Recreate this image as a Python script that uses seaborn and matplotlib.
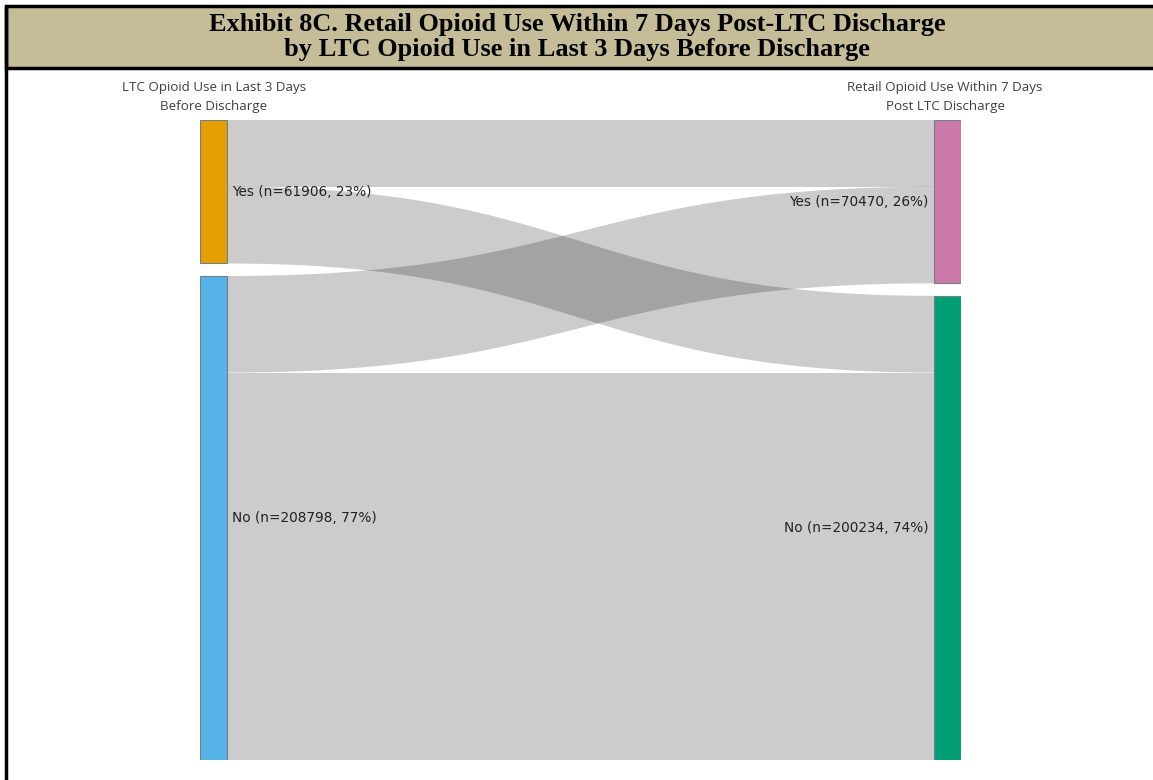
"""Exhibit 8C: Sankey of LTC opioid use (last 3 days) -> retail opioid use within 7 days post discharge."""
import matplotlib

matplotlib.use("Agg")
import matplotlib.pyplot as plt
import numpy as np
import seaborn as sns
from matplotlib.patches import Polygon, Rectangle

# ---- data ----
left_labels = ["Yes", "No"]
left_n = [61906, 208798]
right_labels = ["Yes", "No"]
right_n = [70470, 200234]
# flows: (source index, target index, count); estimated from ribbon widths
flow_src = [0, 0, 1, 1]
flow_tgt = [0, 1, 0, 1]
flow_val = [28800, 33106, 41670, 167128]

left_colors = ["#E69F00", "#56B4E9"]
right_colors = ["#CC79A7", "#009E73"]
left_header = "LTC Opioid Use in Last 3 Days\nBefore Discharge"
right_header = "Retail Opioid Use Within 7 Days\nPost LTC Discharge"
title = ("Exhibit 8C. Retail Opioid Use Within 7 Days Post-LTC Discharge\n"
         "by LTC Opioid Use in Last 3 Days Before Discharge")

sns.set_theme(style="white")
plt.rcParams["font.family"] = ["DejaVu Sans"]

W, H = 1153, 780
fig = plt.figure(figsize=(W / 100, H / 100), dpi=100)

# frame + title banner, in pixel coordinates
bg = fig.add_axes([0, 0, 1, 1])
bg.set_xlim(0, W)
bg.set_ylim(H, 0)
bg.axis("off")
bg.add_patch(Rectangle((6, 6), W + 10, 62, facecolor="#C4BD97",
                       edgecolor="black", linewidth=2.5))
bg.plot([6, 6], [6, H + 5], color="black", linewidth=2.5)
bg.text(577, 37, title, ha="center", va="center", fontsize=19,
        fontweight="bold", family="Liberation Serif", color="black",
        linespacing=1.1)
bg.text(214, 97, left_header, ha="center", va="center", fontsize=9.6,
        family="Open Sans", color="#404040", linespacing=1.55)
bg.text(945, 97, right_header, ha="center", va="center", fontsize=9.6,
        family="Open Sans", color="#404040", linespacing=1.55)

# sankey area: x in [0, 1] spans both node columns, y in counts (top = 0)
x0px, x1px, y0px, y1px = 200, 961, 120, 760
ax = fig.add_axes([x0px / W, 1 - y1px / H, (x1px - x0px) / W, (y1px - y0px) / H])
ax.axis("off")
total = sum(left_n)
gap = total * 12.5 / 627
node_w = 27 / (x1px - x0px)
ax.set_xlim(0, 1)
ax.set_ylim(total + gap, 0)


def node_tops(vals):
    tops, y = [], 0
    for v in vals:
        tops.append(y)
        y += v + gap
    return tops


ltop = node_tops(left_n)
rtop = node_tops(right_n)

for i, (t, v) in enumerate(zip(ltop, left_n)):
    ax.add_patch(Rectangle((0, t), node_w, v, facecolor=left_colors[i],
                           edgecolor="#6f7f8f", linewidth=0.8, zorder=3))
    ax.text(node_w + 0.007, t + v / 2,
            f"{left_labels[i]} (n={v}, {v / total:.0%})",
            ha="left", va="center", fontsize=9.8, color="#222222", zorder=4)
for i, (t, v) in enumerate(zip(rtop, right_n)):
    ax.add_patch(Rectangle((1 - node_w, t), node_w, v, facecolor=right_colors[i],
                           edgecolor="#6f7f8f", linewidth=0.8, zorder=3))
    ax.text(1 - node_w - 0.007, t + v / 2,
            f"{right_labels[i]} (n={v}, {v / total:.0%})",
            ha="right", va="center", fontsize=9.8, color="#222222", zorder=4)

# ribbons: stacked at source by target order, at target by source order
src_off = list(ltop)
tgt_off = list(rtop)
order_src = sorted(range(len(flow_val)), key=lambda k: (flow_src[k], flow_tgt[k]))
order_tgt = sorted(range(len(flow_val)), key=lambda k: (flow_tgt[k], flow_src[k]))
s_pos, t_pos = {}, {}
for k in order_src:
    s_pos[k] = src_off[flow_src[k]]
    src_off[flow_src[k]] += flow_val[k]
for k in order_tgt:
    t_pos[k] = tgt_off[flow_tgt[k]]
    tgt_off[flow_tgt[k]] += flow_val[k]

xa, xb = node_w, 1 - node_w
tt = np.linspace(0, 1, 120)
bx = (1 - tt) ** 3 * xa + 3 * (1 - tt) ** 2 * tt * (xa + xb) / 2 \
    + 3 * (1 - tt) * tt ** 2 * (xa + xb) / 2 + tt ** 3 * xb
ease = 3 * tt ** 2 - 2 * tt ** 3
for k in range(len(flow_val)):
    ya, yb = s_pos[k], t_pos[k]
    top = ya + (yb - ya) * ease
    bot = top + flow_val[k]
    pts = np.vstack([np.column_stack([bx, top]),
                     np.column_stack([bx[::-1], bot[::-1]])])
    ax.add_patch(Polygon(pts, closed=True, facecolor=(0, 0, 0, 0.2),
                         edgecolor="none", zorder=1))

fig.savefig("out.png", dpi=100)
